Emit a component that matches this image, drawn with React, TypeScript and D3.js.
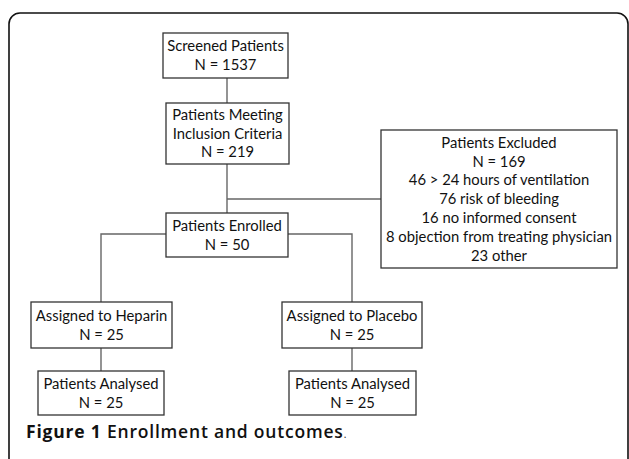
import React, { useRef, useEffect } from "react";
import * as d3 from "d3";

// flowchart content
const boxTitles = [
  ["Screened Patients"],
  ["Patients Meeting", "Inclusion Criteria"],
  ["Patients Enrolled"],
  ["Assigned to Heparin"],
  ["Assigned to Placebo"],
  ["Patients Analysed"],
  ["Patients Analysed"],
];
const boxCounts = [1537, 219, 50, 25, 25, 25, 25];

const excludedTitle = "Patients Excluded";
const excludedCount = 169;
const exclusionCounts = [46, 76, 16, 8, 23];
const exclusionReasons = [
  "> 24 hours of ventilation",
  "risk of bleeding",
  "no informed consent",
  "objection from treating physician",
  "other",
];

const captionBold = "Figure 1";
const captionText = " Enrollment and outcomes";

// box layout (x0, y0, x1, y1) in page pixels
const layout = [
  [163, 33, 288, 78],
  [166, 103, 289, 164],
  [166, 213, 288, 257],
  [31, 302, 172, 348],
  [282, 302, 422, 348],
  [38, 371, 164, 415],
  [289, 371, 416, 415],
];
const excludedBox = [381, 130, 617, 268];

const FONT = "Lato, 'Open Sans', sans-serif";
const LINE_H = 18.8;

const App = () => {
  const svgRef = useRef<SVGSVGElement>(null);

  useEffect(() => {
    const svg = d3.select(svgRef.current);
    svg.selectAll("*").remove();

    // outer rounded frame
    svg.append("rect")
      .attr("x", 9)
      .attr("y", 13)
      .attr("width", 619)
      .attr("height", 470)
      .attr("rx", 11)
      .attr("fill", "none")
      .attr("stroke", "#111")
      .attr("stroke-width", 1.6);

    // connectors
    const line = d3.line();
    const cx = (b: number[]) => (b[0] + b[2]) / 2;
    const connectors: [number, number][][] = [
      [[227, layout[0][3]], [227, layout[1][1]]],
      [[227, layout[1][3]], [227, layout[2][1]]],
      [[227, 199], [excludedBox[0], 199]],
      [[layout[2][0], 234], [101, 234], [101, layout[3][1]]],
      [[layout[2][2], 234], [352, 234], [352, layout[4][1]]],
      [[101, layout[3][3]], [101, layout[5][1]]],
      [[352, layout[4][3]], [352, layout[6][1]]],
    ];
    svg.append("g")
      .selectAll("path")
      .data(connectors)
      .enter()
      .append("path")
      .attr("d", d => line(d))
      .attr("fill", "none")
      .attr("stroke", "#666")
      .attr("stroke-width", 1.4);

    // boxes
    const boxes = boxTitles.map((t, i) => ({
      b: layout[i],
      lines: [...t, `N = ${boxCounts[i]}`],
    }));
    boxes.push({
      b: excludedBox,
      lines: [
        excludedTitle,
        `N = ${excludedCount}`,
        ...exclusionCounts.map((c, i) => `${c} ${exclusionReasons[i]}`),
      ],
    });

    const g = svg.append("g")
      .selectAll("g")
      .data(boxes)
      .enter()
      .append("g");

    g.append("rect")
      .attr("x", d => d.b[0])
      .attr("y", d => d.b[1])
      .attr("width", d => d.b[2] - d.b[0])
      .attr("height", d => d.b[3] - d.b[1])
      .attr("fill", "#fff")
      .attr("stroke", "#333")
      .attr("stroke-width", 1.3);

    g.each(function (d) {
      const mid = (d.b[1] + d.b[3]) / 2;
      const top = mid - ((d.lines.length - 1) * LINE_H) / 2;
      d3.select(this)
        .selectAll("text")
        .data(d.lines)
        .enter()
        .append("text")
        .attr("x", cx(d.b))
        .attr("y", (_, j) => top + j * LINE_H)
        .attr("dy", "0.35em")
        .attr("text-anchor", "middle")
        .style("font-family", FONT)
        .style("font-size", "14.8px")
        .style("fill", "#111")
        .text(s => s);
    });

    // caption
    const cap = svg.append("text")
      .attr("x", 26)
      .attr("y", 438)
      .style("font-family", "'Open Sans', sans-serif")
      .style("font-size", "17.5px")
      .style("letter-spacing", "0.8px")
      .style("fill", "#111");
    cap.append("tspan").style("font-weight", 700).text(captionBold);
    cap.append("tspan").style("font-weight", 600).text(captionText);
    cap.append("tspan").style("font-size", "10px").text(".");
  }, []);

  return (
    <div style={{ position: "absolute", left: 0, top: 0 }}>
      <svg ref={svgRef} width={629} height={459} style={{ display: "block" }}></svg>
    </div>
  );
};

export default App;
